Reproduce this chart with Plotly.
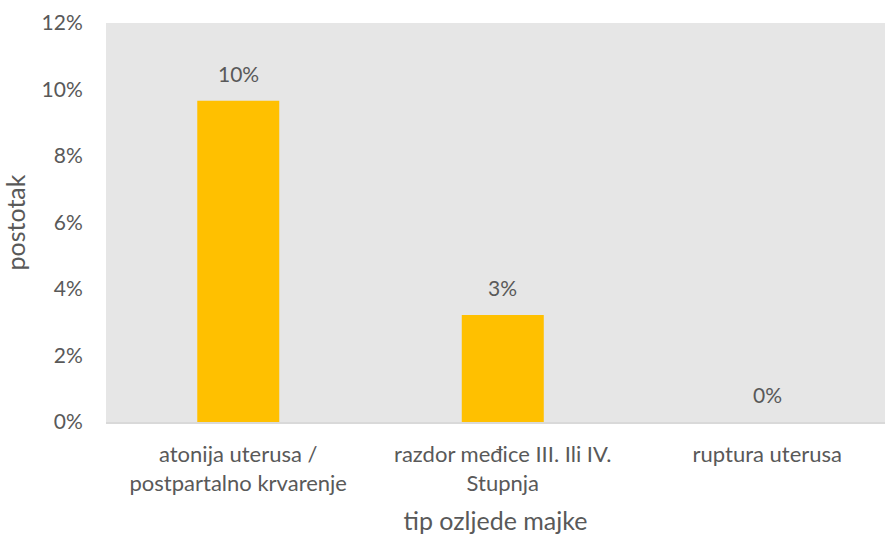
import plotly.graph_objects as go

# Share of maternal injury types
categories = ["atonija uterusa /<br>postpartalno krvarenje",
              "razdor međice III. Ili IV.<br>Stupnja",
              "ruptura uterusa"]
values = [0.0966, 0.0322, 0.0]
y_ticks = [0, 0.02, 0.04, 0.06, 0.08, 0.10, 0.12]

FONT = "Lato, Open Sans, sans-serif"
TXT = "#595959"

fig = go.Figure(
    go.Bar(
        x=list(range(len(categories))),
        y=values,
        width=0.31,
        marker=dict(color="#FFC000", line=dict(width=0)),
        hoverinfo="skip",
    )
)

# value labels above each bar
for i, v in enumerate(values):
    fig.add_annotation(
        x=i, y=v, text=f"{v:.0%}", showarrow=False,
        yanchor="bottom", yshift=13,
        font=dict(family=FONT, size=21, color=TXT),
    )

fig.update_layout(
    width=885, height=535,
    margin=dict(l=106, r=0, t=23, b=113),
    paper_bgcolor="white",
    plot_bgcolor="#E6E6E6",
    showlegend=False,
    font=dict(family=FONT, size=21, color=TXT),
    xaxis=dict(
        tickmode="array",
        tickvals=list(range(len(categories))),
        ticktext=categories,
        tickfont=dict(size=22),
        range=[-0.5, 2.445],
        showgrid=False, zeroline=False,
        showline=True, linecolor="#D9D9D9", linewidth=2,
        ticks="outside", ticklen=12, tickcolor="rgba(0,0,0,0)",
        title=dict(text="tip ozljede majke", font=dict(size=25, color=TXT), standoff=17),
    ),
    yaxis=dict(
        range=[0, 0.12],
        tickvals=y_ticks,
        tickformat=".0%",
        showgrid=False, zeroline=False, showline=False,
        ticks="outside", ticklen=18, tickcolor="rgba(0,0,0,0)",
        title=dict(text="postotak", font=dict(size=25, color=TXT), standoff=14),
    ),
)

fig.write_html("out.html")
